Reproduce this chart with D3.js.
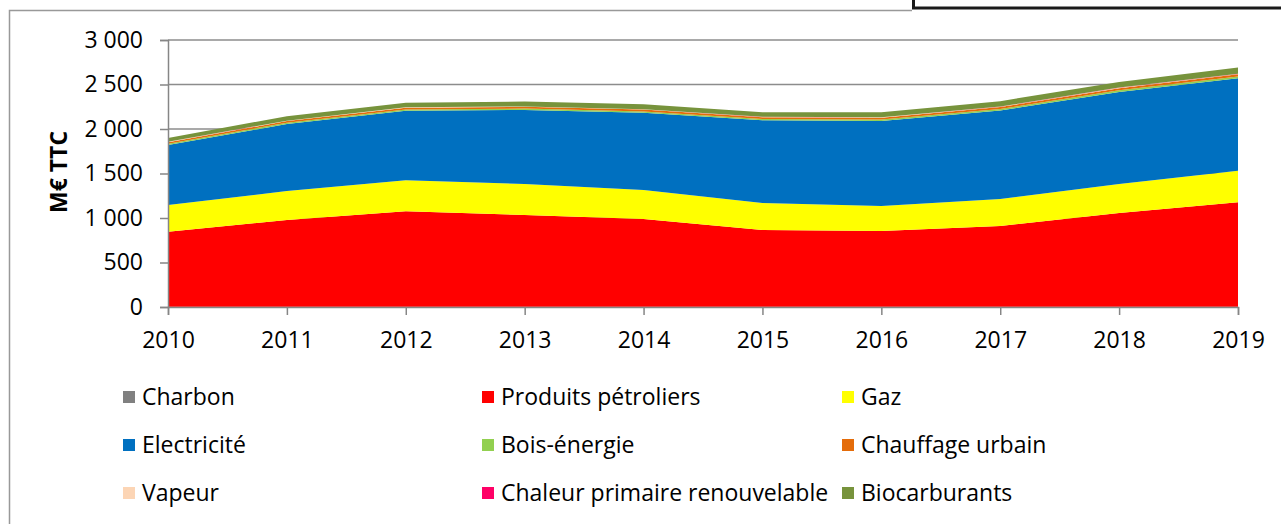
<!DOCTYPE html>
<html>
<head>
<meta charset="utf-8">
<script src="https://cdn.jsdelivr.net/npm/d3@7"></script>
<style>
  html, body { margin: 0; padding: 0; background: #fff; }
  svg { display: block; font-family: "Open Sans", sans-serif; }
</style>
</head>
<body>
<svg id="chart" width="1281" height="524"></svg>
<script>
const years = [2010, 2011, 2012, 2013, 2014, 2015, 2016, 2017, 2018, 2019];

// M€ TTC
const charbon    = [4, 4, 4, 3, 3, 3, 3, 2, 2, 2];
const petrole    = [842, 973, 1072, 1031, 986, 862, 851, 908, 1054, 1174];
const gaz        = [300, 326, 348, 348, 326, 304, 281, 303, 326, 355];
const electricite = [674, 752, 780, 832, 868, 928, 955, 995, 1035, 1038];
const bois       = [14, 15, 15, 15, 15, 15, 16, 17, 18, 20];
const chauffage  = [18, 19, 20, 20, 20, 20, 21, 22, 24, 26];
const vapeur     = [4, 4, 4, 4, 4, 4, 4, 4, 4, 4];
const chaleur    = [1, 1, 1, 1, 1, 1, 2, 2, 2, 2];
const biocarb    = [42, 50, 52, 55, 55, 52, 55, 60, 62, 70];

const seriesNames = ["Charbon", "Produits pétroliers", "Gaz", "Electricité", "Bois-énergie",
  "Chauffage urbain", "Vapeur", "Chaleur primaire renouvelable", "Biocarburants"];
const seriesColors = ["#808080", "#ff0000", "#ffff00", "#0070c0", "#92d050",
  "#e46c0a", "#fcd5b5", "#ff0066", "#77933c"];
const seriesValues = [charbon, petrole, gaz, electricite, bois, chauffage, vapeur, chaleur, biocarb];

const yTicks = [0, 500, 1000, 1500, 2000, 2500, 3000];
const yTickLabels = ["0", "500", "1 000", "1 500", "2 000", "2 500", "3 000"];

const svg = d3.select("#chart");
const mLeft = 168, mRight = 1238, mTop = 40, mBottom = 307;
const fontSize = "23px";

// outer chart frame (only top and left edges are in view)
svg.append("path")
  .attr("d", `M9.5,524 V10.5 H912`)
  .attr("fill", "none").attr("stroke", "#999").attr("stroke-width", 1.5);

// box from the page above, cut by the window edge
svg.append("rect")
  .attr("x", 913.5).attr("y", -40).attr("width", 420).attr("height", 48)
  .attr("fill", "#fff").attr("stroke", "#1a1a1a").attr("stroke-width", 3);

const x = d3.scaleLinear().domain([2010, 2019]).range([mLeft, mRight]);
const y = d3.scaleLinear().domain([0, 3000]).range([mBottom, mTop]);

// gridlines
svg.append("g").selectAll("line").data(yTicks.slice(1)).enter().append("line")
  .attr("x1", mLeft).attr("x2", mRight)
  .attr("y1", d => y(d)).attr("y2", d => y(d))
  .attr("stroke", "#8c8c8c").attr("stroke-width", 1.5);

const table = years.map((yr, i) => {
  const row = { year: yr };
  seriesNames.forEach((n, k) => row[n] = seriesValues[k][i]);
  return row;
});
const stacked = d3.stack().keys(seriesNames)(table);

const area = d3.area()
  .x(d => x(d.data.year))
  .y0(d => y(d[0]))
  .y1(d => y(d[1]));

svg.append("g").selectAll("path").data(stacked).enter().append("path")
  .attr("d", area)
  .attr("fill", (d, i) => seriesColors[i]);

// axes
const yAxis = d3.axisLeft(y).tickValues(yTicks)
  .tickFormat((d, i) => yTickLabels[i]).tickSize(8).tickPadding(17);
const gy = svg.append("g").attr("transform", `translate(${mLeft},0)`).call(yAxis);

const xAxis = d3.axisBottom(x).tickValues(years).tickFormat(d3.format("d"))
  .tickSize(8).tickPadding(17);
const gx = svg.append("g").attr("transform", `translate(0,${mBottom})`).call(xAxis);

[gx, gy].forEach(g => {
  g.select(".domain").attr("stroke", "#868686").attr("stroke-width", 1.5);
  g.selectAll(".tick line").attr("stroke", "#868686").attr("stroke-width", 1.5);
  g.selectAll(".tick text").attr("fill", "#000").style("font-size", fontSize)
    .style("font-family", "'Open Sans', sans-serif");
});

svg.append("text")
  .attr("transform", `translate(67,172) rotate(-90)`)
  .attr("text-anchor", "middle")
  .style("font-size", fontSize).style("font-weight", "bold")
  .text("M€ TTC");

// legend
const colX = [123, 482, 842];
const rowY = [397, 445, 493];
const legend = svg.append("g").selectAll("g").data(seriesNames).enter().append("g")
  .attr("transform", (d, i) => `translate(${colX[i % 3]},${rowY[Math.floor(i / 3)]})`);
legend.append("rect")
  .attr("x", 0).attr("y", -6).attr("width", 12).attr("height", 12)
  .attr("fill", (d, i) => seriesColors[i]);
legend.append("text")
  .attr("x", 19).attr("y", 0).attr("dy", "0.35em")
  .style("font-size", fontSize)
  .text(d => d);
</script>
</body>
</html>
